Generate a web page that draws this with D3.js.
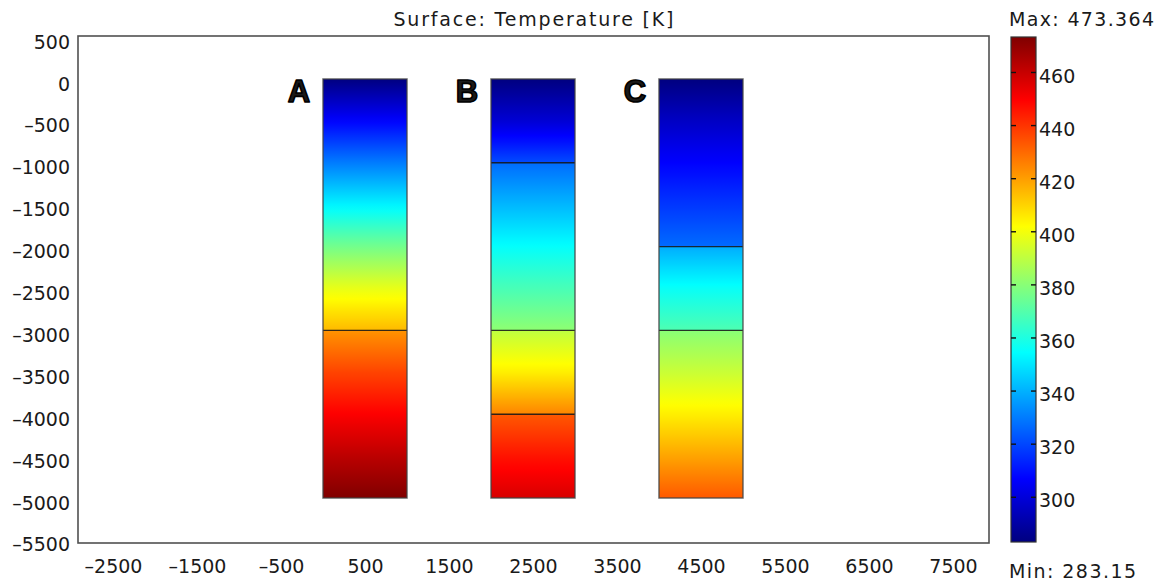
<!DOCTYPE html>
<html>
<head>
<meta charset="utf-8">
<script src="https://cdn.jsdelivr.net/npm/d3@7"></script>
<style>
  html, body { margin: 0; padding: 0; background: #fff; }
  svg { display: block; }
  text { font-family: "DejaVu Sans", sans-serif; fill: #1a1a1a; }
</style>
</head>
<body>
<svg id="chart" width="1160" height="584"></svg>
<script>
// Temperature range of the solution [K]
const tempMin = 283.15;
const tempMax = 473.364;

// Axis tick values
const xTicks = [-2500, -1500, -500, 500, 1500, 2500, 3500, 4500, 5500, 6500, 7500];
const yTicks = [500, 0, -500, -1000, -1500, -2000, -2500, -3000, -3500, -4000, -4500, -5000, -5500];
const colorTicks = [300, 320, 340, 360, 380, 400, 420, 440, 460];

// Three rock columns: label and horizontal extent [m]
const columnNames = ["A", "B", "C"];
const columnExtents = [[0, 1000], [2000, 3000], [4000, 5000]];

// Column A: layers (depth samples [m] and temperature [K])
const depthsA = [[0, -500, -1000, -1500, -2000, -2500, -3000],
                 [-3000, -3500, -4000, -4500, -5000]];
const tempsA  = [[283.15, 307, 330, 352.5, 376, 398, 415],
                 [422, 437, 450, 462, 473.36]];

// Column B
const depthsB = [[0, -500, -1000],
                 [-1000, -1500, -2000, -2500, -3000],
                 [-3000, -3500, -4000],
                 [-4000, -4500, -5000]];
const tempsB  = [[283.15, 299, 321],
                 [327, 341, 355, 368, 381],
                 [390, 405, 425],
                 [433, 446, 457]];

// Column C
const depthsC = [[0, -500, -1000, -1500, -2000],
                 [-2000, -2500, -3000],
                 [-3000, -3500, -4000, -4500, -5000]];
const tempsC  = [[283.15, 296, 307, 317, 327],
                 [339, 356, 369],
                 [380, 392, 405, 419, 433]];

const columnDepths = [depthsA, depthsB, depthsC];
const columnTemps = [tempsA, tempsB, tempsC];

// ---------------------------------------------------------------
const svg = d3.select("#chart");
const defs = svg.append("defs");
const FS = 19;

const plot = { left: 78, right: 989, top: 36, bottom: 543 };
const x = d3.scaleLinear().domain([-2917, 7929]).range([plot.left, plot.right]);
const y = d3.scaleLinear().domain([513, -5537]).range([plot.top, plot.bottom]);

// MATLAB-style "jet" colormap
function jet(t) {
  const c = v => Math.max(0, Math.min(1, v));
  const r = c(1.5 - Math.abs(4 * t - 3));
  const g = c(1.5 - Math.abs(4 * t - 2));
  const b = c(1.5 - Math.abs(4 * t - 1));
  return d3.rgb(r * 255, g * 255, b * 255).formatHex();
}
const color = d3.scaleSequential(jet).domain([tempMin, tempMax]);

// negative numbers drawn with a dash sign
const fmt = v => (v < 0 ? "\u2013" + Math.abs(v) : String(v));

// Plot frame
svg.append("rect")
  .attr("x", plot.left).attr("y", plot.top)
  .attr("width", plot.right - plot.left).attr("height", plot.bottom - plot.top)
  .attr("fill", "#fff").attr("stroke", "#505050").attr("stroke-width", 1.6);

// Title
svg.append("text")
  .attr("x", (plot.left + plot.right) / 2 - 140).attr("y", 26)
  .attr("font-size", FS)
  .attr("textLength", 280).attr("lengthAdjust", "spacing")
  .text("Surface: Temperature [K]");

// Axes (labels only, no tick marks)
const xAxis = d3.axisBottom(x).tickValues(xTicks).tickSize(0).tickPadding(0).tickFormat(fmt);
const gx = svg.append("g").attr("transform", `translate(0,${plot.bottom})`).call(xAxis);
gx.select(".domain").remove();
gx.selectAll("text").attr("font-size", FS).attr("dy", null).attr("y", 30)
  .style("font-family", '"DejaVu Sans", sans-serif').attr("fill", "#1a1a1a");

const yAxis = d3.axisLeft(y).tickValues(yTicks).tickSize(0).tickPadding(0).tickFormat(fmt);
const gy = svg.append("g").attr("transform", `translate(${plot.left - 8},0)`).call(yAxis);
gy.select(".domain").remove();
gy.selectAll("text").attr("font-size", FS).attr("dy", "0.32em")
  .attr("transform", "translate(0,5)")
  .style("font-family", '"DejaVu Sans", sans-serif').attr("fill", "#1a1a1a");

// Columns: each layer filled with a vertical gradient through the colormap
const steps = 40;
columnNames.forEach((name, ci) => {
  const [x0, x1] = columnExtents[ci];
  const g = svg.append("g");
  const depths = columnDepths[ci];
  const temps = columnTemps[ci];

  depths.forEach((ds, li) => {
    const ts = temps[li];
    const top = ds[0], bot = ds[ds.length - 1];
    const tAt = d3.scaleLinear().domain(ds).range(ts);
    const id = `grad-${name}-${li}`;
    const grad = defs.append("linearGradient")
      .attr("id", id).attr("x1", 0).attr("y1", 0).attr("x2", 0).attr("y2", 1);
    d3.range(steps + 1).forEach(k => {
      const f = k / steps;
      const d = top + (bot - top) * f;
      grad.append("stop").attr("offset", f).attr("stop-color", color(tAt(d)));
    });
    g.append("rect")
      .attr("x", x(x0)).attr("y", y(top))
      .attr("width", x(x1) - x(x0)).attr("height", y(bot) - y(top))
      .attr("fill", `url(#${id})`);
  });

  // interior layer boundaries
  depths.slice(1).forEach(ds => {
    g.append("line")
      .attr("x1", x(x0)).attr("x2", x(x1))
      .attr("y1", y(ds[0])).attr("y2", y(ds[0]))
      .attr("stroke", "#111").attr("stroke-width", 1.4).attr("stroke-opacity", 0.85);
  });

  // outline
  const yTop = y(depths[0][0]);
  const yBot = y(depths[depths.length - 1][depths[depths.length - 1].length - 1]);
  g.append("rect")
    .attr("x", x(x0)).attr("y", yTop)
    .attr("width", x(x1) - x(x0)).attr("height", yBot - yTop)
    .attr("fill", "none").attr("stroke", "#444").attr("stroke-width", 1.5)
    .attr("stroke-opacity", 0.8);

  // column letter
  svg.append("text")
    .attr("x", x(x0) - 24).attr("y", 102)
    .attr("text-anchor", "middle")
    .attr("font-size", 31).attr("font-weight", "bold")
    .style("font-family", '"Liberation Sans", Arial, sans-serif')
    .attr("fill", "#000").attr("stroke", "#000").attr("stroke-width", 1.6)
    .attr("stroke-linejoin", "round")
    .text(name);
});

// Colour bar
const cb = { left: 1011, width: 25, top: 37, bottom: 542 };
const cy = d3.scaleLinear().domain([tempMin, tempMax]).range([cb.bottom, cb.top]);
const cbGrad = defs.append("linearGradient")
  .attr("id", "cbar").attr("x1", 0).attr("y1", 1).attr("x2", 0).attr("y2", 0);
d3.range(65).forEach(k => {
  const f = k / 64;
  cbGrad.append("stop").attr("offset", f)
    .attr("stop-color", color(tempMin + (tempMax - tempMin) * f));
});
svg.append("rect")
  .attr("x", cb.left).attr("y", cb.top).attr("width", cb.width).attr("height", cb.bottom - cb.top)
  .attr("fill", "url(#cbar)").attr("stroke", "#333").attr("stroke-width", 1.2);

const cbTicks = svg.append("g");
colorTicks.forEach(v => {
  const yy = cy(v);
  cbTicks.append("line").attr("x1", cb.left).attr("x2", cb.left + 5)
    .attr("y1", yy).attr("y2", yy).attr("stroke", "#111").attr("stroke-width", 1.4);
  cbTicks.append("line").attr("x1", cb.left + cb.width - 5).attr("x2", cb.left + cb.width)
    .attr("y1", yy).attr("y2", yy).attr("stroke", "#111").attr("stroke-width", 1.4);
  cbTicks.append("text").attr("x", cb.left + cb.width + 3).attr("y", yy + 4)
    .attr("dy", "0.32em").attr("font-size", FS).text(v);
});

svg.append("text").attr("x", 1009).attr("y", 26).attr("font-size", FS)
  .attr("textLength", 145).attr("lengthAdjust", "spacing")
  .text(`Max: ${tempMax}`);
svg.append("text").attr("x", 1009).attr("y", 578).attr("font-size", FS)
  .attr("textLength", 127).attr("lengthAdjust", "spacing")
  .text(`Min: ${tempMin}`);
</script>
</body>
</html>
